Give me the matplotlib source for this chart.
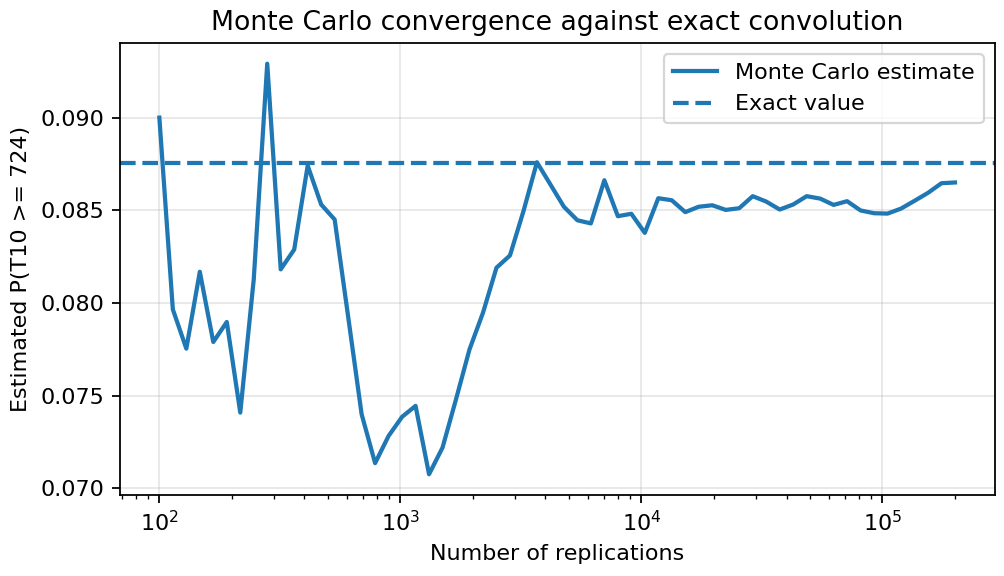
import matplotlib
matplotlib.use("Agg")
import matplotlib.pyplot as plt
import numpy as np

# replication counts: 60 log-spaced values from 100 to 200000
replications = np.logspace(2, np.log10(200_000), 60)

estimates = [
    0.0900, 0.07965, 0.07753, 0.08168, 0.07789, 0.07897, 0.07408, 0.08127,
    0.09291, 0.08181, 0.08288, 0.08741, 0.08531, 0.08450, 0.07926, 0.07399,
    0.07135, 0.07282, 0.07385, 0.07444, 0.07075, 0.07219, 0.07480, 0.07749,
    0.07947, 0.08190, 0.08256, 0.08495, 0.08759, 0.08639, 0.08519, 0.08446,
    0.08429, 0.08662, 0.08468, 0.08481, 0.08378, 0.08565, 0.08554, 0.08490,
    0.08519, 0.08527, 0.08502, 0.08511, 0.08576, 0.08547, 0.08504, 0.08531,
    0.08576, 0.08563, 0.08529, 0.08549, 0.08499, 0.08484, 0.08482, 0.08509,
    0.08551, 0.08594, 0.08646, 0.08650,
]

exact_value = 0.08757

fig, ax = plt.subplots(figsize=(6.28, 3.6), dpi=160)
fig.subplots_adjust(left=0.119, right=0.990, top=0.925, bottom=0.141)

ax.plot(replications, estimates, color="tab:blue", lw=1.9, label="Monte Carlo estimate")
ax.axhline(exact_value, color="tab:blue", ls="--", lw=1.9, label="Exact value")
ax.set_xscale("log")
ax.set_xlabel("Number of replications")
ax.set_ylabel("Estimated P(T10 >= 724)")
ax.set_title("Monte Carlo convergence against exact convolution", fontsize=12)
ax.grid(True, alpha=0.3)
ax.legend(loc="upper right")

fig.savefig("out.png", dpi=160)
